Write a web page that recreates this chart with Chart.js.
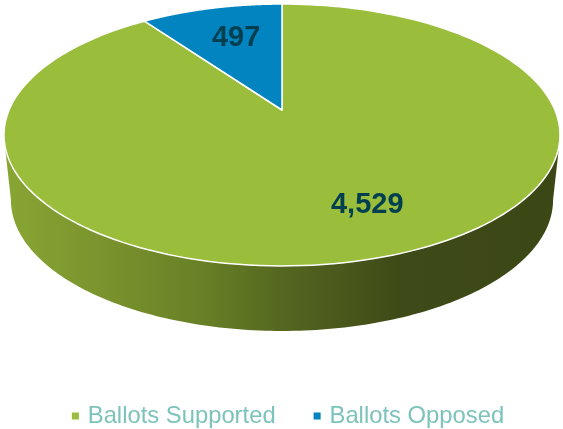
<!DOCTYPE html>
<html>
<head>
<meta charset="utf-8">
<style>
  html, body { margin: 0; padding: 0; background: #fff; overflow: hidden; }
  canvas { display: block; }
</style>
<script src="https://cdn.jsdelivr.net/npm/chart.js@4"></script>
</head>
<body>
<canvas id="pie" width="563" height="429"></canvas>
<script>
const categories = ['Ballots Supported', 'Ballots Opposed']
const ballots = [4529, 497]
const sliceColors = ['#9abd3c', '#0284c0']

// perspective of the disc: unit circle -> picture
const Disc = { cx: 282, tipY: 110, A: 272.9, B: 105.2, p: 0.1908, depth: 65, shrink: 0.975 }

function project(angle, r = 1) {
  const u = Math.cos(angle) * r
  const v = Math.sin(angle) * r
  const w = 1 - Disc.p * v
  return { x: Disc.cx + Disc.A * u / w, y: (Disc.tipY + Disc.B * v) / w }
}

function projectBase(angle) {
  const pt = project(angle)
  return { x: Disc.cx + (pt.x - Disc.cx) * Disc.shrink, y: pt.y + Disc.depth }
}

const rad = d => d * Math.PI / 180

const disc3d = {
  id: 'disc3d',
  beforeDatasetDraw(chart) {
    const ctx = chart.ctx
    const arcs = chart.getDatasetMeta(0).data

    // side wall, from the rim down to the base
    const wall = ctx.createLinearGradient(5, 0, 555, 0)
    wall.addColorStop(0, '#88a633')
    wall.addColorStop(0.18, '#7a932e')
    wall.addColorStop(0.36, '#688026')
    wall.addColorStop(0.5, '#556720')
    wall.addColorStop(0.72, '#3e4a17')
    wall.addColorStop(1, '#3c4716')
    ctx.beginPath()
    for (let a = 15; a <= 165; a += 1) {
      const pt = project(rad(a))
      ctx.lineTo(pt.x, pt.y)
    }
    for (let a = 169; a >= 11; a -= 1) {
      const pt = projectBase(rad(a))
      ctx.lineTo(pt.x, pt.y)
    }
    ctx.closePath()
    ctx.fillStyle = wall
    ctx.fill()

    // top face, angles come from the arc elements
    arcs.forEach(arc => {
      const tip = project(0, 0)
      ctx.beginPath()
      ctx.moveTo(tip.x, tip.y)
      const steps = 180
      for (let i = 0; i <= steps; i++) {
        const a = arc.startAngle + (arc.endAngle - arc.startAngle) * i / steps
        const pt = project(a)
        ctx.lineTo(pt.x, pt.y)
      }
      ctx.closePath()
      ctx.fillStyle = arc.options.backgroundColor
      ctx.fill()
      ctx.strokeStyle = arc.options.borderColor
      ctx.lineWidth = arc.options.borderWidth
      ctx.lineJoin = 'round'
      ctx.stroke()
    })

    // value labels
    const nudges = [20, 5]
    ctx.font = 'bold 29px "Liberation Sans", Arial, sans-serif'
    ctx.fillStyle = '#003f4f'
    ctx.textAlign = 'center'
    ctx.textBaseline = 'middle'
    arcs.forEach((arc, i) => {
      const pos = project((arc.startAngle + arc.endAngle) / 2, 0.685)
      ctx.fillText(ballots[i].toLocaleString('en-US'), pos.x + nudges[i], pos.y + 1)
    })

    return false // default flat arcs are not wanted
  }
}

new Chart(document.getElementById('pie'), {
  type: 'pie',
  plugins: [disc3d],
  data: {
    labels: categories,
    datasets: [
      {
        data: ballots,
        backgroundColor: sliceColors,
        borderColor: '#ffffff',
        borderWidth: 1.5
      }
    ]
  },
  options: {
    responsive: false,
    animation: false,
    layout: { padding: { left: 16, bottom: -9 } },
    plugins: {
      tooltip: { enabled: false },
      legend: {
        display: true,
        position: 'bottom',
        labels: {
          usePointStyle: true,
          pointStyle: 'rect',
          boxWidth: 1,
          boxHeight: 7,
          padding: 41,
          color: '#7cc3bb',
          font: { family: '"Liberation Sans", Arial, sans-serif', size: 23.8 },
          generateLabels(chart) {
            return Chart.overrides.pie.plugins.legend.labels.generateLabels(chart)
              .map(item => ({ ...item, lineWidth: 0 }))
          }
        }
      }
    }
  }
})
</script>
</body>
</html>
